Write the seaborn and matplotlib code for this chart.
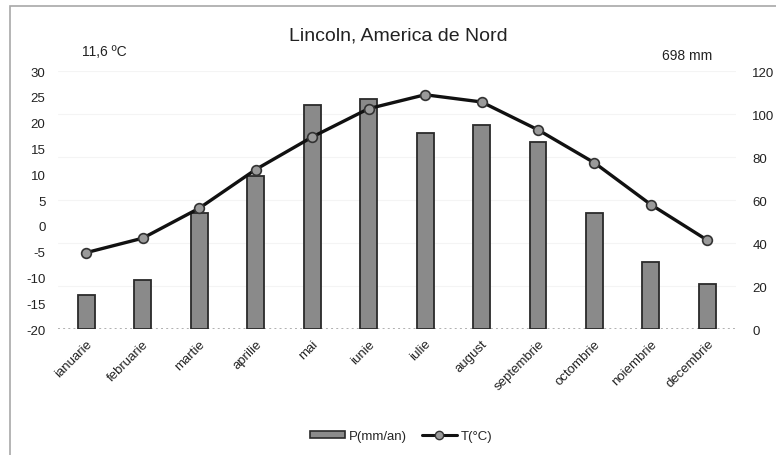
import numpy as np
import matplotlib
matplotlib.use("Agg")
import matplotlib.pyplot as plt
import seaborn as sns
from matplotlib.lines import Line2D
from matplotlib.patches import Patch, Rectangle

months = ["ianuarie", "februarie", "martie", "aprilie", "mai", "iunie",
          "iulie", "august", "septembrie", "octombrie", "noiembrie", "decembrie"]
precip = [16, 23, 54, 71, 104, 107, 91, 95, 87, 54, 31, 21]
temp = [-5.2, -2.4, 3.4, 10.9, 17.2, 22.7, 25.4, 24.0, 18.6, 12.2, 4.1, -2.8]
temp_ticks = [-20, -15, -10, -5, 0, 5, 10, 15, 20, 25, 30]
precip_ticks = [0, 20, 40, 60, 80, 100, 120]

sns.set_style("white")
plt.rcParams['font.family'] = ['Liberation Sans', 'DejaVu Sans']

fig = plt.figure(figsize=(7.76, 4.56), dpi=100)
ax = fig.add_axes([0.0747, 0.2763, 0.8733, 0.5658])
ax2 = ax.twinx()

# precipitation bars (right scale)
sns.barplot(x=months, y=precip, ax=ax, color="#8a8a8a", width=0.3,
            edgecolor="#2a2a2a", linewidth=1.3, saturation=1)
ax.set_ylim(0, 120)
ax.set_xlim(-0.5, 11.5)
ax.set_yticks(precip_ticks)
ax.set_yticklabels([str(v) for v in precip_ticks], fontsize=9.5, color="#222")
ax.yaxis.tick_right()
ax.tick_params(axis="y", length=0, pad=12)
ax.axhline(0, color="#b0b0b0", ls=":", lw=1.4, zorder=0)
for v in precip_ticks[1:]:
    ax.axhline(v, color="#f4f4f4", lw=0.8, zorder=0)

ax.set_xticks(range(len(months)))
ax.set_xticklabels(months, rotation=45, ha="right", rotation_mode="anchor",
                   fontsize=9.5, color="#222")
ax.tick_params(axis="x", length=0, pad=6)
ax.set_xlabel("")
ax.set_ylabel("")

# temperature line (left scale)
sns.lineplot(x=np.arange(len(months)), y=temp, ax=ax2, color="#111", lw=2.4,
             marker="o", markersize=7, markerfacecolor="#9a9a9a",
             markeredgecolor="#333", markeredgewidth=1.2)
ax2.set_ylim(-20, 30)
ax2.set_yticks(temp_ticks)
ax2.set_yticklabels([str(v) for v in temp_ticks], fontsize=9.5, color="#222")
ax2.yaxis.tick_left()
ax2.tick_params(axis="y", length=0, pad=9)
for s in ["top", "bottom", "left", "right"]:
    ax.spines[s].set_visible(False)
    ax2.spines[s].set_visible(False)

fig.text(0.513, 0.922, "Lincoln, America de Nord", ha="center", va="center",
         fontsize=14, color="#222")
fig.text(0.135, 0.885, "11,6 ºC", ha="center", va="center", fontsize=10, color="#222")
fig.text(0.886, 0.878, "698 mm", ha="center", va="center", fontsize=10, color="#222")

handles = [Patch(facecolor="#8a8a8a", edgecolor="#2a2a2a", linewidth=1.2),
           Line2D([0], [0], color="#111", lw=2.2, marker="o", markersize=6,
                  markerfacecolor="#9a9a9a", markeredgecolor="#333")]
fig.legend(handles, ["P(mm/an)", "T(°C)"], loc="center", bbox_to_anchor=(0.517, 0.042),
           ncol=2, frameon=False, fontsize=9.5, handlelength=2.6, handleheight=0.45,
           columnspacing=1.2, handletextpad=0.3)

fig.patches.append(Rectangle((10 / 776, -0.1), 1.2, 1.1 - 7 / 456,
                             transform=fig.transFigure, fill=False,
                             edgecolor="#a8a8a8", lw=1.2))

fig.savefig("out.png", dpi=100)
